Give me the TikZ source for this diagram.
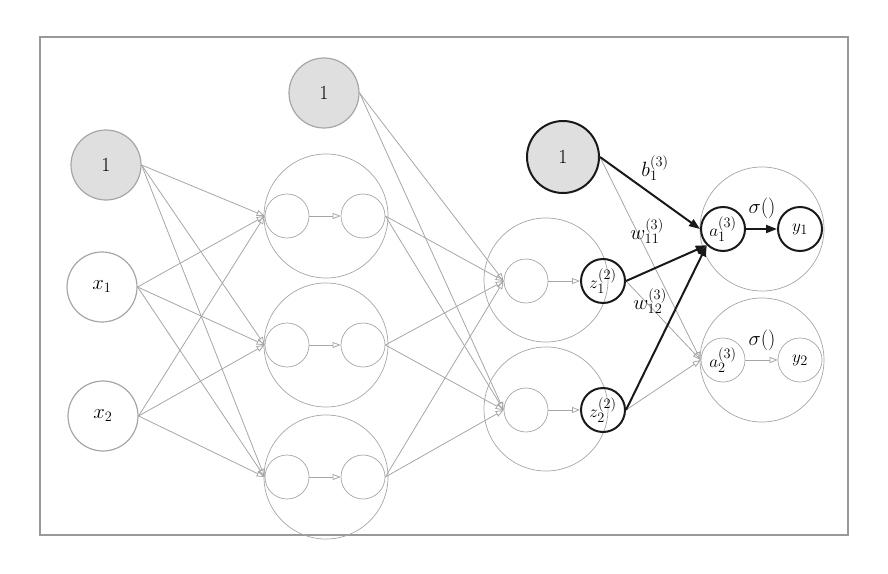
\documentclass[tikz,border=0pt]{standalone}
\usetikzlibrary{arrows.meta}
\begin{document}
\begin{tikzpicture}[x=1bp,y=-1bp,
 g/.style={draw=gray!70,line width=0.7pt},
 big/.style={circle,g,minimum size=124bp,inner sep=0pt},
 sm/.style={circle,g,minimum size=44bp,inner sep=0pt,font=\fontsize{19}{22}\selectfont},
 smb/.style={circle,draw=black!90,line width=2pt,minimum size=44bp,inner sep=0pt,font=\fontsize{19}{22}\selectfont},
 inp/.style={circle,draw=gray!70,line width=1.2pt,minimum size=70bp,inner sep=0pt,font=\fontsize{20}{24}\selectfont},
 ga/.style={draw=gray!70,line width=0.8pt,-{Triangle[open,length=8bp,width=6bp]}},
 ba/.style={draw=black!90,line width=2pt,-{Triangle[length=11bp,width=8bp]}},
 lab/.style={font=\fontsize{21}{25}\selectfont}]
\useasboundingbox (0,0) rectangle (888,574);
\draw[gray!80,line width=1.2pt] (40,37) rectangle (848,535);
% inputs
\node[inp,fill=gray!25] (b0) at (106,165) {1};
\node[inp] (x1) at (102,287) {$x_1$};
\node[inp] (x2) at (103,416) {$x_2$};
% layer 1
\foreach \i/\y in {1/216,2/345,3/477}{
 \node[big] (B\i) at (326,\y) {};
 \node[sm] (a\i) at (287,\y) {};
 \node[sm] (h\i) at (363,\y) {};
 \draw[ga] (a\i) -- (h\i);
}
\node[inp,fill=gray!25] (b1) at (324,93) {1};
% layer 2
\node[big] (C1) at (546,280) {};
\node[big] (C2) at (546,409) {};
\node[sm] (p1) at (526,281) {};
\node[sm] (p2) at (526,410) {};
\node[smb] (z1) at (603,281) {$z_1^{(2)}$};
\node[smb] (z2) at (603,410) {$z_2^{(2)}$};
\draw[ga] (p1) -- (z1);
\draw[ga] (p2) -- (z2);
\node[circle,draw=black!90,line width=2pt,fill=gray!25,minimum size=72bp,font=\fontsize{20}{24}\selectfont] (b2) at (563,157) {1};
% layer 3
\node[big] (D1) at (762,229) {};
\node[big] (D2) at (762,360) {};
\node[smb] (o1) at (723,229) {$a_1^{(3)}$};
\node[sm] (o2) at (723,360) {$a_2^{(3)}$};
\node[smb] (y1) at (800,229) {$y_1$};
\node[sm] (y2) at (800,360) {$y_2$};
\draw[ba] (o1) -- (y1);
\draw[ga] (o2) -- (y2);
% edges
\foreach \s in {b0,x1,x2}{\foreach \t in {a1,a2,a3}{\draw[ga] (\s.east) -- (\t.west);}}
\foreach \s in {b1,h1,h2,h3}{\foreach \t in {p1,p2}{\draw[ga] (\s.east) -- (\t.west);}}
\foreach \s in {b2,z1,z2}{\draw[ga] (\s.east) -- (o2.west);}
\draw[ba] (b2.east) -- (o1.west);
\draw[ba] (z1.east) -- (o1.south west);
\draw[ba] (z2.east) -- (o1.south west);
% labels
\node[lab] at (655,168) {$b_1^{(3)}$};
\node[lab] at (647,231) {$w_{11}^{(3)}$};
\node[lab] at (650,301) {$w_{12}^{(3)}$};
\node[lab] at (762,208) {$\sigma()$};
\node[lab] at (762,340) {$\sigma()$};
\end{tikzpicture}
\end{document}
